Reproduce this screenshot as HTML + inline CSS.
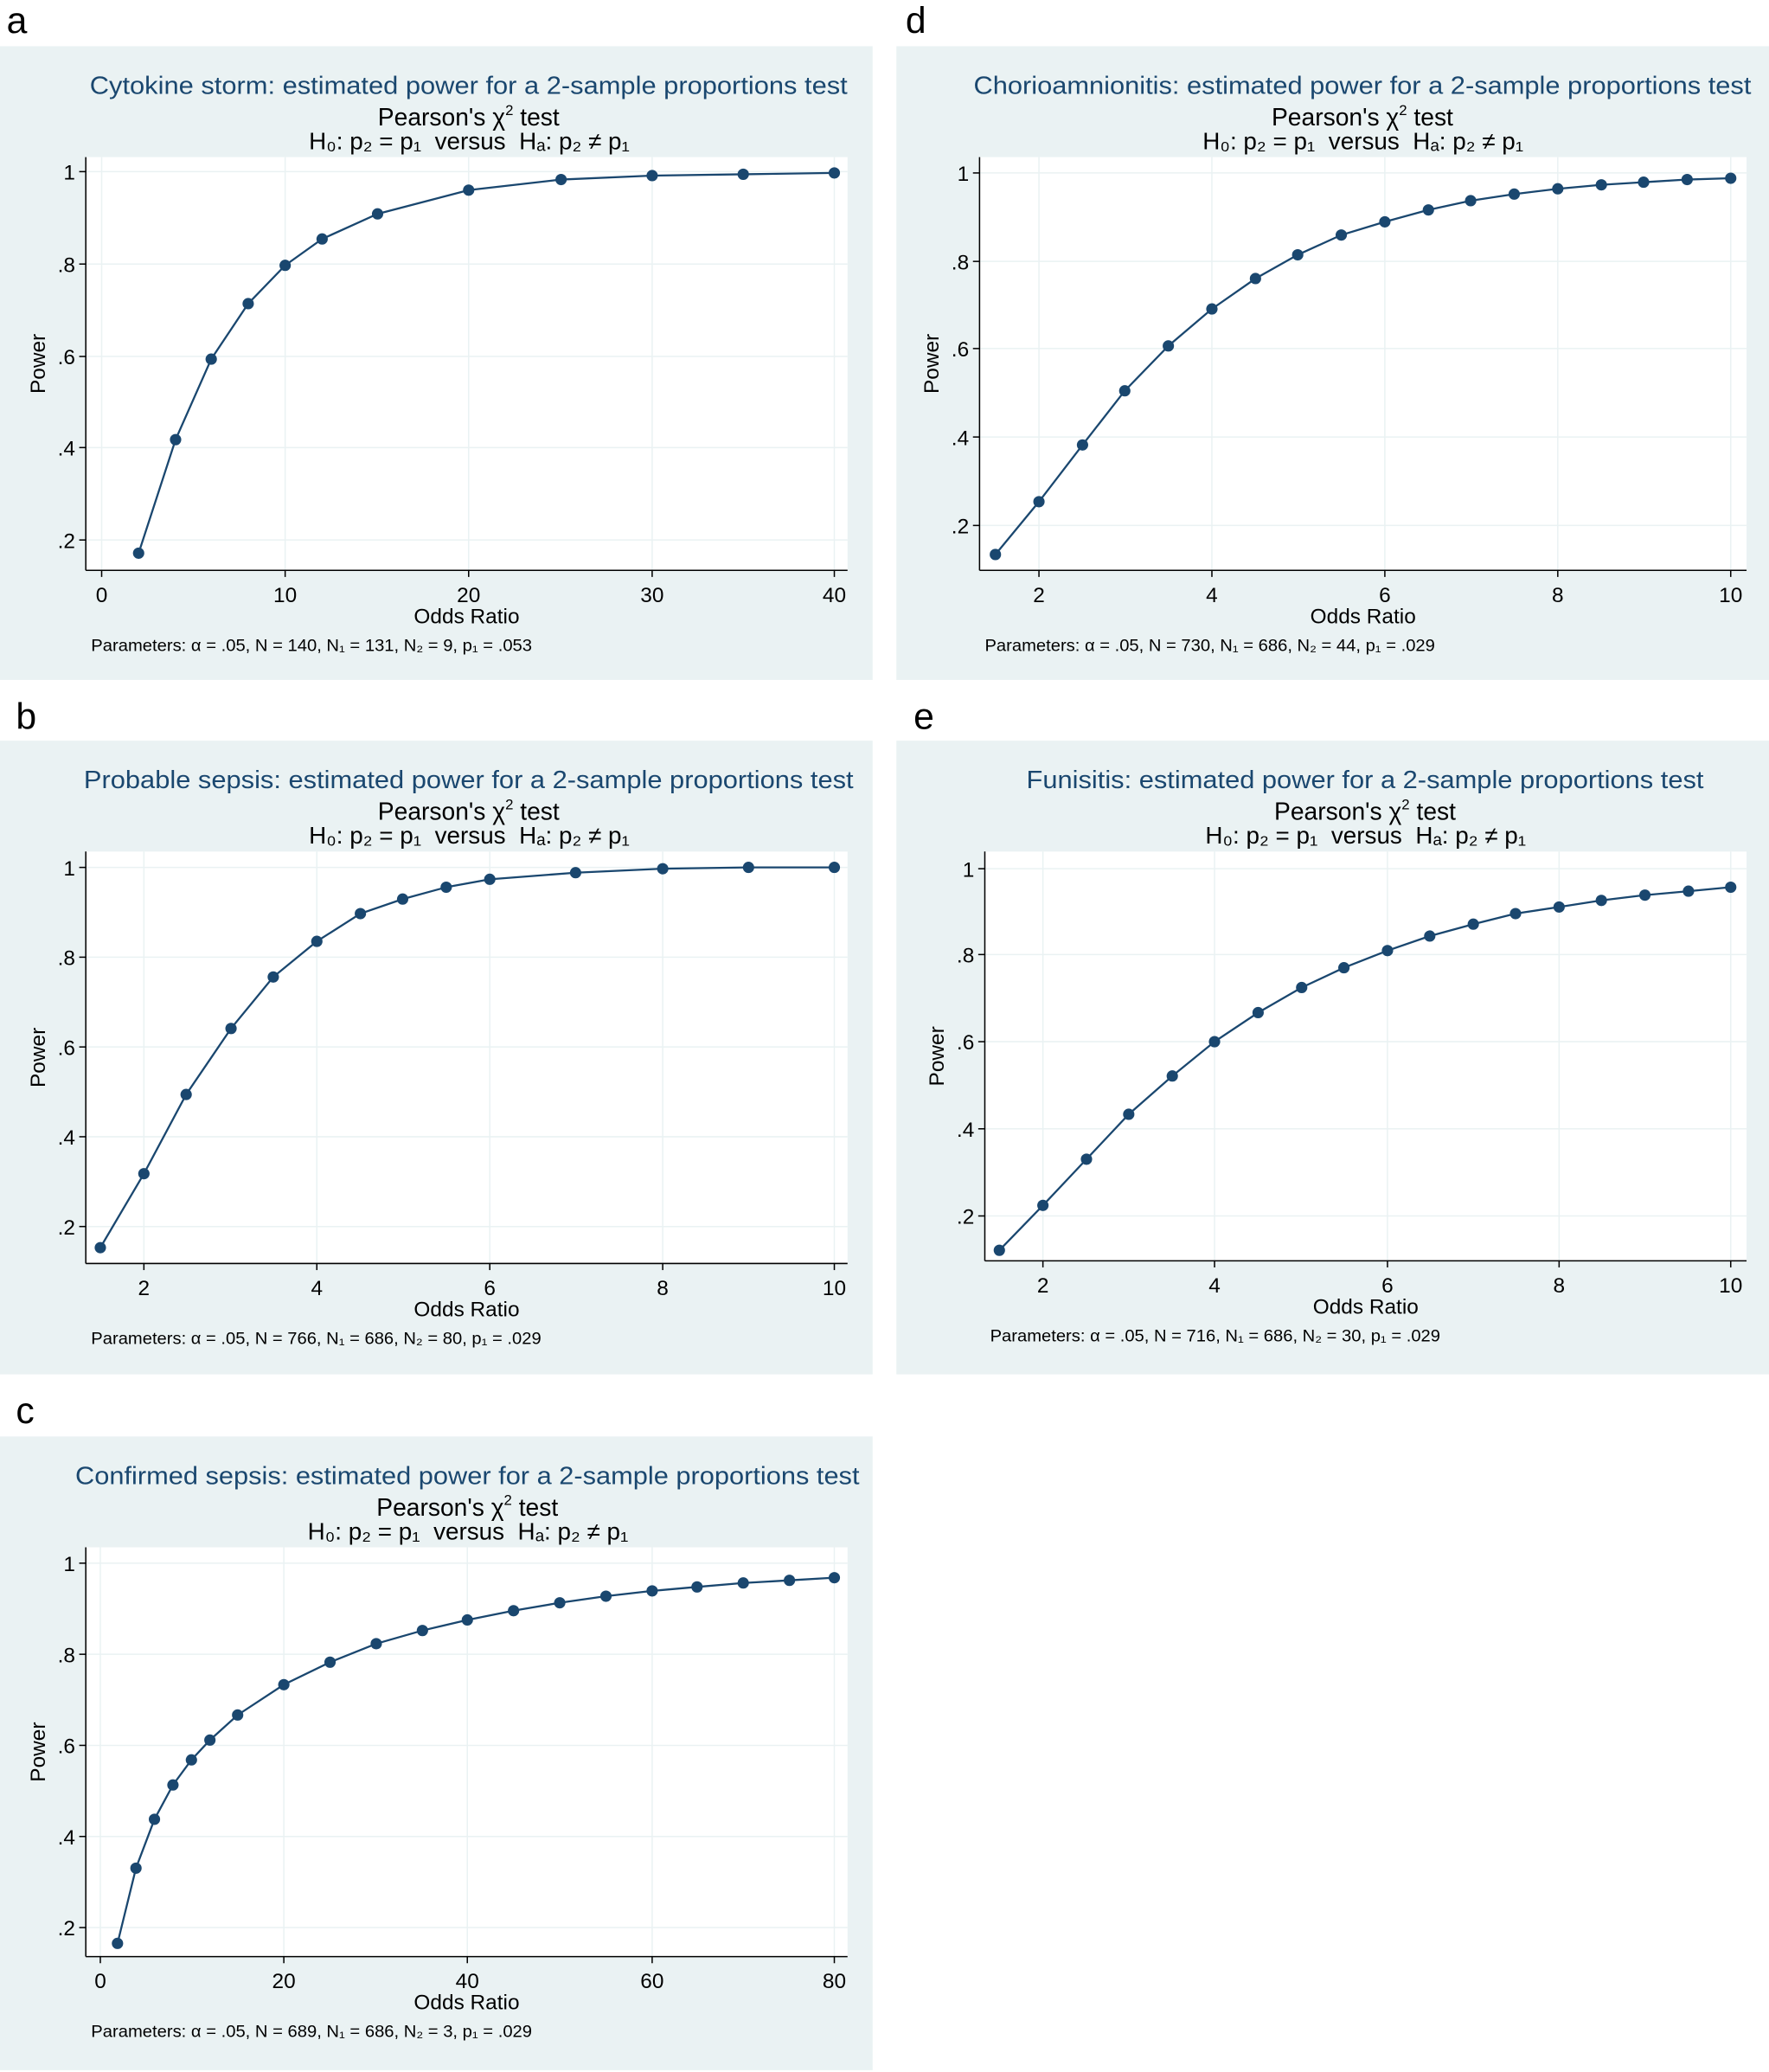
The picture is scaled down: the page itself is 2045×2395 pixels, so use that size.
<!DOCTYPE html>
<html><head><meta charset="utf-8"><style>html,body{margin:0;padding:0;background:#fff}svg{display:block}text{white-space:pre}</style></head>
<body>
<svg id="s" xmlns="http://www.w3.org/2000/svg" width="2045" height="2395" viewBox="0 0 1340 1569.4" preserveAspectRatio="none" font-family="Liberation Sans, Arial, sans-serif"></svg>
<script>
const S=document.getElementById('s');const NS='http://www.w3.org/2000/svg';
function el(t,a,txt){const e=document.createElementNS(NS,t);for(const k in a)e.setAttribute(k,a[k]);if(txt!==undefined)e.textContent=txt;S.appendChild(e);return e;}
const P=[
{bx:0,by:35,L:65,R:642,T:119,B:432,cx:355,tw:574,pw:334,title:'Cytokine storm: estimated power for a 2-sample proportions test',
xt:[['0',77],['10',216],['20',355],['30',494],['40',632]],yt:[['1',130],['.8',200],['.6',270],['.4',339],['.2',409]],
pts:[[105,419],[133,333],[160,272],[188,230],[216,201],[244,181],[286,162],[355,144],[425,136],[494,133],[563,132],[632,131]],
par:'Parameters: α = .05, N = 140, N₁ = 131, N₂ = 9, p₁ = .053'},
{bx:679,by:35,L:742,R:1323,T:119,B:432,cx:1032,tw:589,pw:341,title:'Chorioamnionitis: estimated power for a 2-sample proportions test',
xt:[['2',787],['4',918],['6',1049],['8',1180],['10',1311]],yt:[['1',131],['.8',198],['.6',264],['.4',331],['.2',398]],
pts:[[754,420],[787,380],[820,337],[852,296],[885,262],[918,234],[951,211],[983,193],[1016,178],[1049,168],[1082,159],[1114,152],[1147,147],[1180,143],[1213,140],[1245,138],[1278,136],[1311,135]],
par:'Parameters: α = .05, N = 730, N₁ = 686, N₂ = 44, p₁ = .029'},
{bx:0,by:561,L:65,R:642,T:645,B:957,cx:355,tw:583,pw:341,title:'Probable sepsis: estimated power for a 2-sample proportions test',
xt:[['2',109],['4',240],['6',371],['8',502],['10',632]],yt:[['1',657],['.8',725],['.6',793],['.4',861],['.2',929]],
pts:[[76,945],[109,889],[141,829],[175,779],[207,740],[240,713],[273,692],[305,681],[338,672],[371,666],[436,661],[502,658],[567,657],[632,657]],
par:'Parameters: α = .05, N = 766, N₁ = 686, N₂ = 80, p₁ = .029'},
{bx:679,by:561,L:746,R:1323,T:645,B:955,cx:1034,tw:513,pw:341,title:'Funisitis: estimated power for a 2-sample proportions test',
xt:[['2',790],['4',920],['6',1051],['8',1181],['10',1311]],yt:[['1',658],['.8',723],['.6',789],['.4',855],['.2',921]],
pts:[[757,947],[790,913],[823,878],[855,844],[888,815],[920,789],[953,767],[986,748],[1018,733],[1051,720],[1083,709],[1116,700],[1148,692],[1181,687],[1213,682],[1246,678],[1279,675],[1311,672]],
par:'Parameters: α = .05, N = 716, N₁ = 686, N₂ = 30, p₁ = .029'},
{bx:0,by:1088,L:65,R:642,T:1172,B:1482,cx:354,tw:594,pw:334,title:'Confirmed sepsis: estimated power for a 2-sample proportions test',
xt:[['0',76],['20',215],['40',354],['60',494],['80',632]],yt:[['1',1184],['.8',1253],['.6',1322],['.4',1391],['.2',1460]],
pts:[[89,1472],[103,1415],[117,1378],[131,1352],[145,1333],[159,1318],[180,1299],[215,1276],[250,1259],[285,1245],[320,1235],[354,1227],[389,1220],[424,1214],[459,1209],[494,1205],[528,1202],[563,1199],[598,1197],[632,1195]],
par:'Parameters: α = .05, N = 689, N₁ = 686, N₂ = 3, p₁ = .029'}
];
const C='#1a476f';
for(const p of P){
 el('rect',{x:p.bx,y:p.by,width:661,height:480,fill:'#eaf2f3'});
 el('rect',{x:p.L,y:p.T,width:p.R-p.L,height:p.B-p.T,fill:'#fff'});
 for(const [l,x] of p.xt){el('line',{x1:x,x2:x,y1:p.T,y2:p.B,stroke:'#eaf2f3','stroke-width':1});}
 for(const [l,y] of p.yt){el('line',{x1:p.L,x2:p.R,y1:y,y2:y,stroke:'#eaf2f3','stroke-width':1});}
 el('line',{x1:p.L,x2:p.L,y1:p.T,y2:p.B,stroke:'#000','stroke-width':1});
 el('line',{x1:p.L,x2:p.R,y1:p.B,y2:p.B,stroke:'#000','stroke-width':1});
 for(const [l,x] of p.xt){el('line',{x1:x,x2:x,y1:p.B,y2:p.B+5,stroke:'#000','stroke-width':1});el('text',{x:x,y:p.B+24,'text-anchor':'middle','font-size':16},l);}
 for(const [l,y] of p.yt){el('line',{x1:p.L-5,x2:p.L,y1:y,y2:y,stroke:'#000','stroke-width':1});el('text',{x:p.L-8,y:y+6,'text-anchor':'end','font-size':16},l);}
 el('polyline',{points:p.pts.map(q=>q.join(',')).join(' '),fill:'none',stroke:C,'stroke-width':1.5});
 for(const q of p.pts)el('circle',{cx:q[0],cy:q[1],r:4.3,fill:C});
 el('text',{x:p.cx-p.tw/2,y:p.by+36,'font-size':19,fill:C,textLength:p.tw,lengthAdjust:'spacingAndGlyphs'},p.title);
 const t=el('text',{x:p.cx,y:p.by+60,'text-anchor':'middle','font-size':18.5});
 t.innerHTML="Pearson's χ<tspan dy='-8' font-size='11'>2</tspan><tspan dy='8'> test</tspan>";
 el('text',{x:p.cx-121,y:p.by+78,'font-size':18,textLength:243,lengthAdjust:'spacingAndGlyphs'},'H₀: p₂ = p₁  versus  Hₐ: p₂ ≠ p₁');
 el('text',{x:(p.L+p.R)/2,y:p.B+40,'text-anchor':'middle','font-size':16},'Odds Ratio');
 el('text',{x:p.L-31,y:(p.T+p.B)/2,'text-anchor':'middle','font-size':16,transform:`rotate(-90 ${p.L-31} ${(p.T+p.B)/2})`},'Power');
 el('text',{x:p.L+4,y:p.B+61,'font-size':12.5,textLength:p.pw,lengthAdjust:'spacingAndGlyphs'},p.par);
}
const lab=[['a',5,25],['d',686,25],['b',12,552],['e',692,552],['c',12,1078]];
for(const [l,x,y] of lab)el('text',{x:x,y:y,'font-size':28},l);
</script>
</body></html>
